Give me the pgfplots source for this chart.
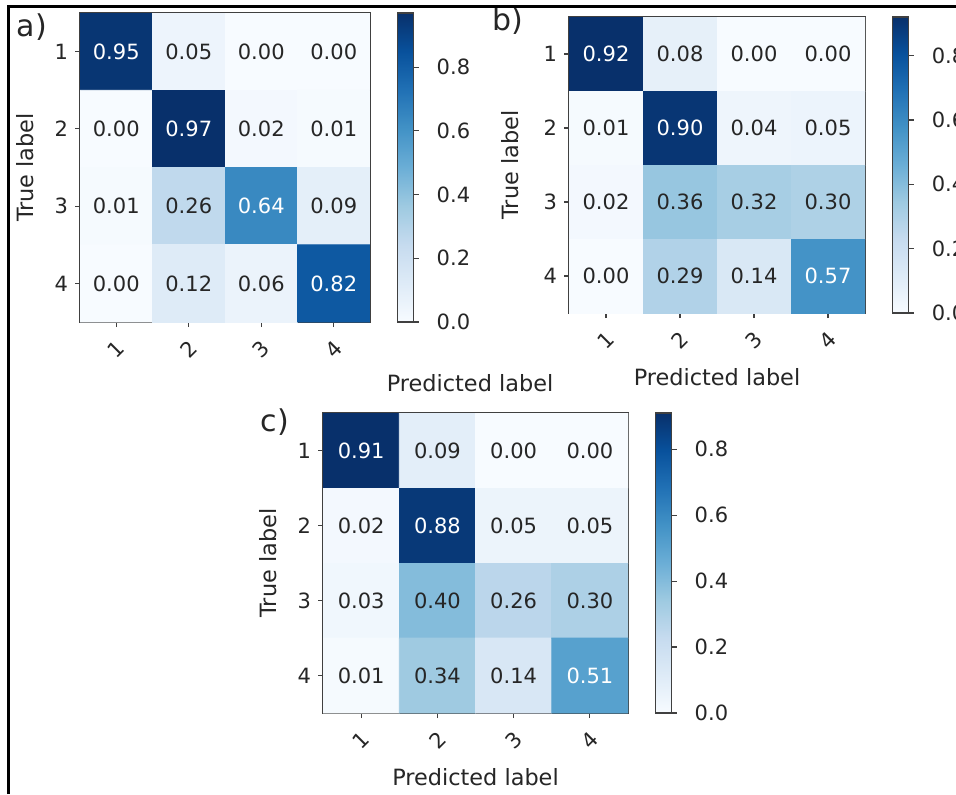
\documentclass[border=0pt]{standalone}
\usepackage{fontspec}
\setmainfont{DejaVu Sans}
\usepackage{pgfplots}
\pgfplotsset{compat=1.18}

\pgfplotsset{
  colormap={blues}{rgb255=(247,251,255) rgb255=(222,235,247) rgb255=(198,219,239) rgb255=(158,202,225) rgb255=(107,174,214) rgb255=(66,146,198) rgb255=(33,113,181) rgb255=(8,81,156) rgb255=(8,48,107)},
  cm/.style={
    scale only axis,
    anchor=north west,
    xmin=0.5, xmax=4.5, ymin=0.5, ymax=4.5,
    y dir=reverse,
    xtick={1,2,3,4}, ytick={1,2,3,4},
    tick pos=left, tick align=outside,
    major tick length=2.5pt,
    axis line style={draw=black!75, line width=0.7pt},
    every tick/.style={black!75, line width=0.6pt},
    tick label style={font=\fontsize{10.5}{12}\selectfont, text=black!85},
    xticklabel style={yshift=-11pt, rotate=45, anchor=center},
    label style={font=\fontsize{11.2}{13}\selectfont, text=black!85},
    ylabel={True label},
    xlabel={Predicted label},
    /pgf/number format/assume math mode=true,
    colorbar,
    colormap name=blues,
    point meta min=0,
    colorbar style={
      at={(parent axis.north east)}, anchor=north west, xshift=5.3pt,
      width=8pt,
      ytick={0,0.2,0.4,0.6,0.8},
      ytick pos=right, yticklabel pos=right,
      /pgf/number format/assume math mode=true,
      yticklabel={\pgfmathprintnumber[fixed,fixed zerofill,precision=1]{\tick}},
      yticklabel style={font=\fontsize{10.5}{12}\selectfont, text=black!85, xshift=5.5pt},
      tick align=outside, major tick length=2.5pt,
      axis line style={draw=black!75, line width=0.6pt},
      every tick/.style={black!75, line width=0.6pt},
    },
  },
  valw/.style={only marks, mark=none, point meta=explicit symbolic, nodes near coords,
    every node near coord/.append style={anchor=center, font=\fontsize{10.5}{12}\selectfont, text=white}},
  valb/.style={only marks, mark=none, point meta=explicit symbolic, nodes near coords,
    every node near coord/.append style={anchor=center, font=\fontsize{10.5}{12}\selectfont, text=black!85}},
}

\begin{document}
\begin{tikzpicture}
\path[use as bounding box, fill=white] (0pt,0pt) rectangle (478pt,397pt);

% ---------------- a ----------------
\begin{axis}[cm, at={(40pt,390.5pt)}, width=145pt, height=154.5pt,
  point meta max=0.97,
  xlabel style={at={(axis description cs:1.345,-0.197)}, anchor=center},
  ylabel style={at={(axis description cs:-0.19,0.5)}, anchor=center}]
\addplot[matrix plot*, mesh/cols=4, point meta=explicit] table[meta=c]{
x y c
1 1 0.95
2 1 0.05
3 1 0.00
4 1 0.00
1 2 0.00
2 2 0.97
3 2 0.02
4 2 0.01
1 3 0.01
2 3 0.26
3 3 0.64
4 3 0.09
1 4 0.00
2 4 0.12
3 4 0.06
4 4 0.82
};
\addplot[valw] table[meta=l]{
x y l
1 1 0.95
2 2 0.97
3 3 0.64
4 4 0.82
};
\addplot[valb] table[meta=l]{
x y l
2 1 0.05
3 1 0.00
4 1 0.00
1 2 0.00
3 2 0.02
4 2 0.01
1 3 0.01
2 3 0.26
4 3 0.09
1 4 0.00
2 4 0.12
3 4 0.06
};
\end{axis}

% ---------------- b ----------------
\begin{axis}[cm, at={(284.5pt,388.5pt)}, width=148pt, height=148pt,
  point meta max=0.92,
  xlabel style={at={(axis description cs:0.5,-0.216)}, anchor=center},
  ylabel style={at={(axis description cs:-0.199,0.5)}, anchor=center}]
\addplot[matrix plot*, mesh/cols=4, point meta=explicit] table[meta=c]{
x y c
1 1 0.92
2 1 0.08
3 1 0.00
4 1 0.00
1 2 0.01
2 2 0.90
3 2 0.04
4 2 0.05
1 3 0.02
2 3 0.36
3 3 0.32
4 3 0.30
1 4 0.00
2 4 0.29
3 4 0.14
4 4 0.57
};
\addplot[valw] table[meta=l]{
x y l
1 1 0.92
2 2 0.90
4 4 0.57
};
\addplot[valb] table[meta=l]{
x y l
2 1 0.08
3 1 0.00
4 1 0.00
1 2 0.01
3 2 0.04
4 2 0.05
1 3 0.02
2 3 0.36
3 3 0.32
4 3 0.30
1 4 0.00
2 4 0.29
3 4 0.14
};
\end{axis}

% ---------------- c ----------------
\begin{axis}[cm, at={(161.5pt,190.5pt)}, width=152.5pt, height=150pt,
  point meta max=0.91,
  xlabel style={at={(axis description cs:0.5,-0.213)}, anchor=center},
  ylabel style={at={(axis description cs:-0.18,0.5)}, anchor=center}]
\addplot[matrix plot*, mesh/cols=4, point meta=explicit] table[meta=c]{
x y c
1 1 0.91
2 1 0.09
3 1 0.00
4 1 0.00
1 2 0.02
2 2 0.88
3 2 0.05
4 2 0.05
1 3 0.03
2 3 0.40
3 3 0.26
4 3 0.30
1 4 0.01
2 4 0.34
3 4 0.14
4 4 0.51
};
\addplot[valw] table[meta=l]{
x y l
1 1 0.91
2 2 0.88
4 4 0.51
};
\addplot[valb] table[meta=l]{
x y l
2 1 0.09
3 1 0.00
4 1 0.00
1 2 0.02
3 2 0.05
4 2 0.05
1 3 0.03
2 3 0.40
3 3 0.26
4 3 0.30
1 4 0.01
2 4 0.34
3 4 0.14
};
\end{axis}

% panel letters
\node[font=\fontsize{15}{17}\selectfont, text=black!85] at (16pt,383.5pt) {a)};
\node[font=\fontsize{15}{17}\selectfont, text=black!85] at (254pt,386.5pt) {b)};
\node[font=\fontsize{15}{17}\selectfont, text=black!85] at (137.5pt,186pt) {c)};

% frame lines
\draw[line width=1.2pt, black] (4.25pt,0pt) -- (4.25pt,393.75pt) -- (478pt,393.75pt);
\end{tikzpicture}
\end{document}
